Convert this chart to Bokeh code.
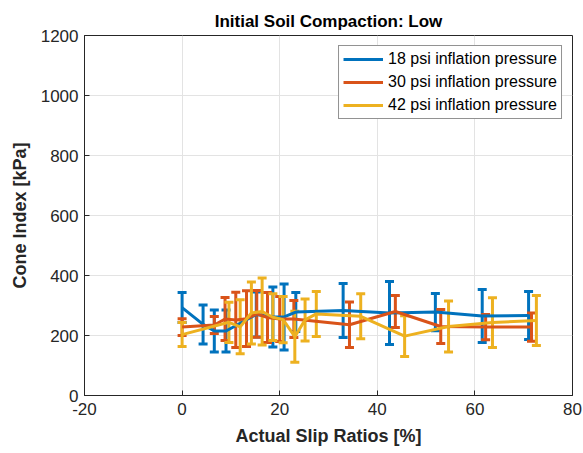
from bokeh.plotting import figure
from bokeh.models import (ColumnDataSource, Whisker, TeeHead, Legend, LegendItem,
                          FixedTicker, Range1d)
from bokeh.embed import file_html
from bokeh.resources import INLINE

# Cone index vs. actual slip ratio at three tyre inflation pressures
slip_18 = [0, 4.3, 6.6, 9.0, 15.2, 18.6, 20.9, 23.3, 33.0, 42.5, 51.9, 61.5, 71.0]
cone_18 = [293, 237, 215, 215, 270, 262, 262, 278, 283, 275, 278, 265, 267]
err_18 = [50, 65, 70, 70, 75, 100, 110, 65, 90, 105, 62, 88, 80]

slip_30 = [0, 6.6, 8.8, 11.0, 13.2, 15.3, 17.5, 20.0, 22.9, 34.3, 43.7, 53.0, 62.2, 71.6]
cone_30 = [228, 235, 255, 252, 256, 272, 260, 255, 255, 236, 280, 230, 228, 228]
err_30 = [28, 28, 72, 92, 93, 78, 83, 75, 62, 76, 53, 57, 42, 47]

slip_42 = [0, 9.6, 11.9, 14.2, 16.4, 18.6, 20.7, 23.1, 25.2, 27.5, 36.6, 45.6, 54.6, 63.6, 72.6]
cone_42 = [203, 244, 229, 275, 280, 261, 253, 196, 252, 272, 264, 198, 230, 243, 250]
err_42 = [40, 67, 90, 103, 112, 78, 77, 85, 70, 75, 75, 68, 85, 83, 83]

series = [
    ("18 psi inflation pressure", slip_18, cone_18, err_18, "#0072BD"),
    ("30 psi inflation pressure", slip_30, cone_30, err_30, "#D95319"),
    ("42 psi inflation pressure", slip_42, cone_42, err_42, "#EDB120"),
]

x_ticks = [-20, 0, 20, 40, 60, 80]
y_ticks = [0, 200, 400, 600, 800, 1000, 1200]

FONT = "Liberation Sans"
AX = "#262626"

p = figure(frame_width=488, frame_height=360,
           x_range=Range1d(-20, 80), y_range=Range1d(0, 1200),
           output_backend="svg", toolbar_location=None,
           min_border_left=84, min_border_right=11,
           min_border_top=35, min_border_bottom=58,
           background_fill_color="white", border_fill_color="white")

p.title.text = "Initial Soil Compaction: Low"
p.title.align = "center"
p.title.text_font = FONT
p.title.text_font_size = "17px"
p.title.text_font_style = "bold"
p.title.text_color = "black"
p.title.offset = 0
p.title.standoff = 9

p.outline_line_color = AX
p.outline_line_width = 1

for ax, ticks in ((p.xaxis[0], x_ticks), (p.yaxis[0], y_ticks)):
    ax.ticker = FixedTicker(ticks=ticks)
    ax.major_label_text_font = FONT
    ax.major_label_text_font_size = "17px"
    ax.major_label_text_color = AX
    ax.axis_label_text_font = FONT
    ax.axis_label_text_font_size = "18px"
    ax.axis_label_text_font_style = "bold"
    ax.axis_label_text_color = AX
    ax.axis_line_color = AX
    ax.major_tick_line_color = AX
    ax.major_tick_in = 5
    ax.major_tick_out = 0
    ax.minor_tick_line_color = None

p.xaxis.major_label_overrides = {-20: "-20"}
p.xaxis.axis_label = "Actual Slip Ratios [%]"
p.yaxis.axis_label = "Cone Index [kPa]"
p.xaxis.major_label_standoff = 7
p.yaxis.major_label_standoff = 6
p.xaxis.axis_label_standoff = 8
p.yaxis.axis_label_standoff = 8

p.xgrid.ticker = FixedTicker(ticks=x_ticks)
p.ygrid.ticker = FixedTicker(ticks=y_ticks)
p.grid.grid_line_color = "#e3e3e3"
p.grid.grid_line_width = 1

items = []
for label, xs, ys, es, color in series:
    src = ColumnDataSource(dict(x=xs, y=ys,
                                lo=[v - e for v, e in zip(ys, es)],
                                hi=[v + e for v, e in zip(ys, es)]))
    ln = p.line("x", "y", source=src, line_color=color, line_width=3)
    wh = Whisker(source=src, base="x", lower="lo", upper="hi",
                 line_color=color, line_width=3,
                 upper_head=TeeHead(size=9, line_color=color, line_width=3),
                 lower_head=TeeHead(size=9, line_color=color, line_width=3))
    p.add_layout(wh)
    items.append(LegendItem(label=label, renderers=[ln]))

legend = Legend(items=items, location="top_right",
                label_text_font=FONT, label_text_font_size="16px",
                label_text_color="black",
                glyph_width=40, glyph_height=18, spacing=5,
                padding=4, margin=10,
                border_line_color=AX, border_line_width=1,
                background_fill_alpha=1.0)
p.add_layout(legend)

open("out.html", "w").write(file_html(p, INLINE))
